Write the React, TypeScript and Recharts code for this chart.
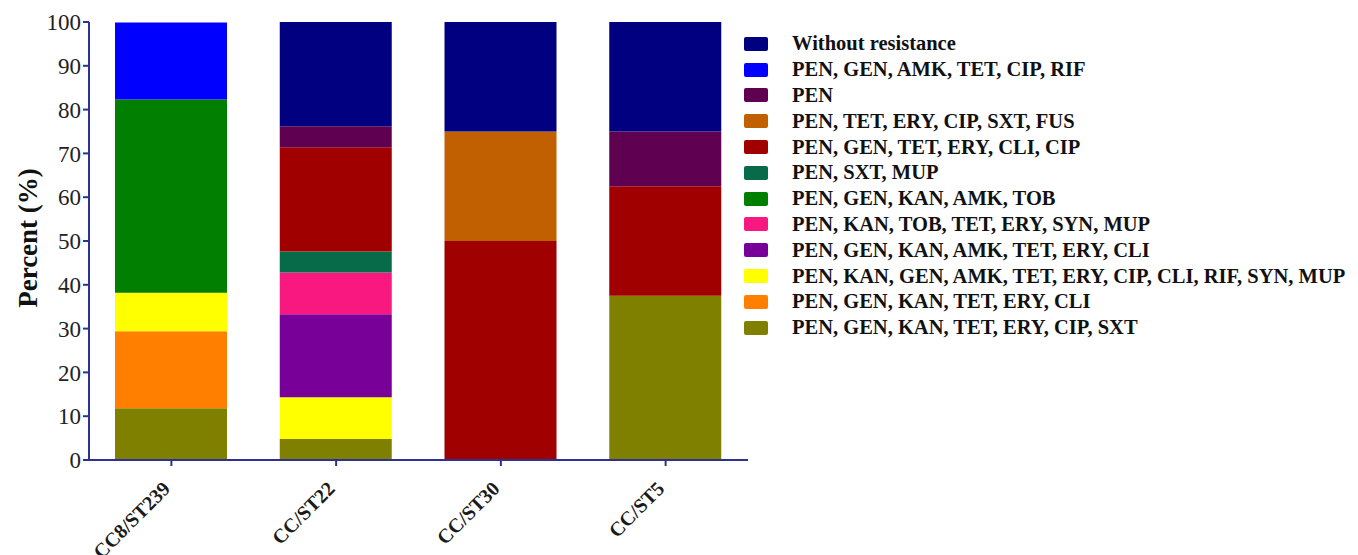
import { BarChart, Bar, XAxis, YAxis, Legend } from 'recharts';

// ─── Data ─────────────────────────────────────────────────────────────────────

const categories = ['CC8/ST239', 'CC/ST22', 'CC/ST30', 'CC/ST5'];

// Resistance profiles, stacked bottom → top
const seriesNames = [
  'PEN, GEN, KAN, TET, ERY, CIP, SXT',
  'PEN, GEN, KAN, TET, ERY, CLI',
  'PEN, KAN, GEN, AMK, TET, ERY, CIP, CLI, RIF, SYN, MUP',
  'PEN, GEN, KAN, AMK, TET, ERY, CLI',
  'PEN, KAN, TOB, TET, ERY, SYN, MUP',
  'PEN, GEN, KAN, AMK, TOB',
  'PEN, SXT, MUP',
  'PEN, GEN, TET, ERY, CLI, CIP',
  'PEN, TET, ERY, CIP, SXT, FUS',
  'PEN',
  'PEN, GEN, AMK, TET, CIP, RIF',
  'Without resistance',
];

const seriesColors = [
  '#808000',
  '#ff8000',
  '#ffff00',
  '#780098',
  '#f8187f',
  '#007f00',
  '#076a48',
  '#a00000',
  '#c06000',
  '#600050',
  '#0000ff',
  '#000080',
];

// Percent per category, one array per series (same order as categories)
const olive = [11.8, 4.8, 0, 37.5];
const orange = [17.6, 0, 0, 0];
const yellow = [8.8, 9.5, 0, 0];
const purple = [0, 19.0, 0, 0];
const pink = [0, 9.5, 0, 0];
const green = [44.1, 0, 0, 0];
const teal = [0, 4.8, 0, 0];
const red = [0, 23.8, 50, 25];
const brown = [0, 0, 25, 0];
const plum = [0, 4.8, 0, 12.5];
const blue = [17.6, 0, 0, 0];
const navy = [0, 23.8, 25, 25];

const seriesValues = [olive, orange, yellow, purple, pink, green, teal, red, brown, plum, blue, navy];

const yTicks = [0, 10, 20, 30, 40, 50, 60, 70, 80, 90, 100];

const chartData = categories.map((name, ci) => {
  const row: Record<string, string | number> = { name };
  seriesNames.forEach((s, si) => {
    row[`s${si}`] = seriesValues[si][ci];
  });
  return row;
});

// ─── Style ────────────────────────────────────────────────────────────────────

const AXIS = '#2e3192';
const FONT = '"Liberation Serif", "Times New Roman", serif';

function RotatedTick({ x, y, payload }: any) {
  const ty = y + 22;
  return (
    <text
      x={x}
      y={ty}
      textAnchor="end"
      transform={`rotate(-45, ${x}, ${ty})`}
      fill="#1a1a1a"
      fontFamily={FONT}
      fontWeight="bold"
      fontSize={20}
    >
      {payload.value}
    </text>
  );
}

function LegendList() {
  const order = seriesNames.map((_, i) => i).reverse();
  return (
    <div style={{ fontFamily: FONT, fontWeight: 'bold', fontSize: 20.5, color: '#111' }}>
      {order.map((i) => (
        <div key={i} style={{ display: 'flex', alignItems: 'center', height: 25.8 }}>
          <span
            style={{
              display: 'inline-block',
              width: 24,
              height: 14,
              borderRadius: 2,
              backgroundColor: seriesColors[i],
              marginRight: 24,
            }}
          />
          <span style={{ whiteSpace: 'nowrap' }}>{seriesNames[i]}</span>
        </div>
      ))}
    </div>
  );
}

export default function App() {
  return (
    <div style={{ position: 'absolute', left: 0, top: 0, background: '#fff' }}>
      <BarChart
        width={1358}
        height={555}
        data={chartData}
        margin={{ top: 22, right: 610, bottom: 0, left: 0 }}
        barSize={112}
      >
        <XAxis
          dataKey="name"
          axisLine={{ stroke: AXIS, strokeWidth: 2 }}
          tickLine={{ stroke: AXIS, strokeWidth: 2 }}
          tickSize={6}
          tick={<RotatedTick />}
          interval={0}
          height={95}
        />
        <YAxis
          width={89}
          domain={[0, 100]}
          ticks={yTicks}
          interval={0}
          axisLine={{ stroke: AXIS, strokeWidth: 2 }}
          tickLine={{ stroke: AXIS, strokeWidth: 2 }}
          tickSize={6}
          tick={{ fill: '#222', fontFamily: FONT, fontSize: 23 }}
          label={{
            value: 'Percent (%)',
            angle: -90,
            position: 'insideLeft',
            offset: 27,
            dy: -3,
            style: {
              textAnchor: 'middle',
              fontFamily: FONT,
              fontWeight: 'bold',
              fontSize: 27,
              fill: '#111',
            },
          }}
        />
        <Legend
          layout="vertical"
          align="center"
          verticalAlign="middle"
          content={() => <LegendList />}
          wrapperStyle={{ left: 744, top: 31, width: 614 }}
        />
        {seriesNames.map((s, i) => (
          <Bar
            key={s}
            dataKey={`s${i}`}
            name={s}
            stackId="a"
            fill={seriesColors[i]}
            isAnimationActive={false}
          />
        ))}
      </BarChart>
    </div>
  );
}
